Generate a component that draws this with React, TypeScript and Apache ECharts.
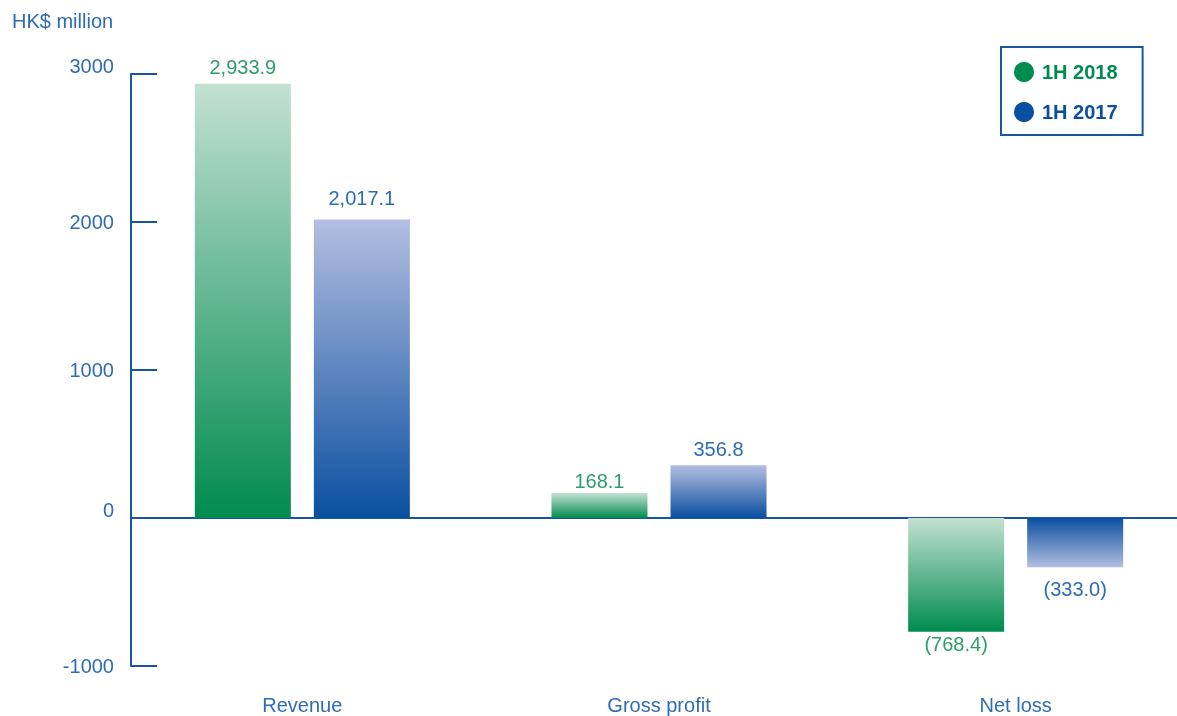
import React, { useEffect, useRef } from "react";
import * as echarts from "echarts";

const categories = ["Revenue", "Gross profit", "Net loss"];
const series2018 = [2933.9, 168.1, -768.4];
const series2017 = [2017.1, 356.8, -333.0];
const seriesNames = ["1H 2018", "1H 2017"];
const yTicks = [-1000, 0, 1000, 2000, 3000];
const unitLabel = "HK$ million";

const GREEN_DARK = "#008B4F";
const GREEN_LIGHT = "#C3E1D2";
const BLUE_DARK = "#0A4FA0";
const BLUE_LIGHT = "#B3BEE1";
const AXIS_BLUE = "#1A55A3";
const TEXT_BLUE = "#2E6DB4";
const TEXT_GREEN = "#2E9E68";
const FONT = "Liberation Sans";

const greenLabelGaps = [7, 2, 2];
const blueLabelGaps = [11, 6, 12];

function fmt(v: number) {
  const s = Math.abs(v).toLocaleString("en-US", { minimumFractionDigits: 1, maximumFractionDigits: 1 });
  return v < 0 ? `(${s})` : s;
}

function grad(top: string, bottom: string) {
  return new echarts.graphic.LinearGradient(0, 0, 0, 1, [
    { offset: 0, color: top },
    { offset: 1, color: bottom },
  ]);
}

export default function App() {
  const ref = useRef<HTMLDivElement>(null);
  useEffect(() => {
    if (!ref.current) return;
    const chart = echarts.init(ref.current, undefined, { renderer: "svg" });
    const greenData = series2018.map((v, i) => ({
      value: v,
      itemStyle: { color: grad(GREEN_LIGHT, GREEN_DARK) },
      label: { position: v < 0 ? "bottom" : "top", distance: greenLabelGaps[i] },
    }));
    const blueData = series2017.map((v, i) => ({
      value: v,
      itemStyle: { color: v < 0 ? grad(BLUE_DARK, BLUE_LIGHT) : grad(BLUE_LIGHT, BLUE_DARK) },
      label: { position: v < 0 ? "bottom" : "top", distance: blueLabelGaps[i] },
    }));
    chart.setOption({
      animation: false,
      textStyle: { fontFamily: FONT },
      title: {
        text: unitLabel,
        left: 12,
        top: 11,
        padding: 0,
        textStyle: { fontFamily: FONT, fontSize: 20, fontWeight: "normal", color: TEXT_BLUE },
      },
      legend: {
        orient: "vertical",
        left: 1001,
        top: 47,
        padding: [15, 25, 13, 13],
        itemGap: 20,
        itemWidth: 20,
        itemHeight: 20,
        icon: "circle",
        borderColor: AXIS_BLUE,
        borderWidth: 2,
        textStyle: { fontFamily: FONT, fontSize: 20, fontWeight: "bold", padding: [0, 0, 0, 3] },
        data: [
          { name: seriesNames[0], itemStyle: { color: GREEN_DARK }, textStyle: { color: GREEN_DARK } },
          { name: seriesNames[1], itemStyle: { color: BLUE_DARK }, textStyle: { color: BLUE_DARK } },
        ],
      },
      grid: [
        { left: 124, width: 1070, top: 74, bottom: 50 },
        { left: 131, right: 23, top: 74, bottom: 50 },
      ],
      xAxis: [
        {
          type: "category",
          gridIndex: 0,
          data: categories,
          axisLine: { show: false, onZero: false },
          axisTick: { show: false },
          axisLabel: { color: TEXT_BLUE, fontSize: 20, fontFamily: FONT, margin: 29 },
        },
        {
          type: "category",
          gridIndex: 1,
          data: categories,
          axisLine: { show: true, onZero: true, lineStyle: { color: AXIS_BLUE, width: 2 } },
          axisTick: { show: false },
          axisLabel: { show: false },
        },
      ],
      yAxis: [
        {
          type: "value",
          gridIndex: 0,
          min: yTicks[0],
          max: yTicks[yTicks.length - 1],
          interval: 1000,
          show: false,
        },
        {
          type: "value",
          gridIndex: 1,
          min: yTicks[0],
          max: yTicks[yTicks.length - 1],
          interval: 1000,
          axisLine: { show: true, lineStyle: { color: AXIS_BLUE, width: 2 } },
          axisTick: { show: true, inside: true, length: 26, lineStyle: { color: AXIS_BLUE, width: 2 } },
          splitLine: { show: false },
          axisLabel: {
            color: TEXT_BLUE,
            fontSize: 20,
            fontFamily: FONT,
            margin: 17,
            formatter: (v: number) => (v === 3000 || v === 0 ? `{up|${v}}` : `${v}`),
            rich: { up: { color: TEXT_BLUE, fontSize: 20, fontFamily: FONT, padding: [0, 0, 16, 0] } },
          },
        },
      ],
      series: [
        {
          name: seriesNames[0],
          type: "bar",
          xAxisIndex: 0,
          yAxisIndex: 0,
          barWidth: 96,
          barGap: "24%",
          data: greenData,
          label: {
            show: true,
            color: TEXT_GREEN,
            fontSize: 20,
            fontFamily: FONT,
            formatter: (p: any) => fmt(p.value),
          },
        },
        {
          name: seriesNames[1],
          type: "bar",
          xAxisIndex: 0,
          yAxisIndex: 0,
          barWidth: 96,
          barGap: "24%",
          data: blueData,
          label: {
            show: true,
            color: TEXT_BLUE,
            fontSize: 20,
            fontFamily: FONT,
            formatter: (p: any) => fmt(p.value),
          },
        },
      ],
    });
    return () => chart.dispose();
  }, []);
  return <div ref={ref} style={{ position: "fixed", left: 0, top: 0, width: 1200, height: 716 }} />;
}
